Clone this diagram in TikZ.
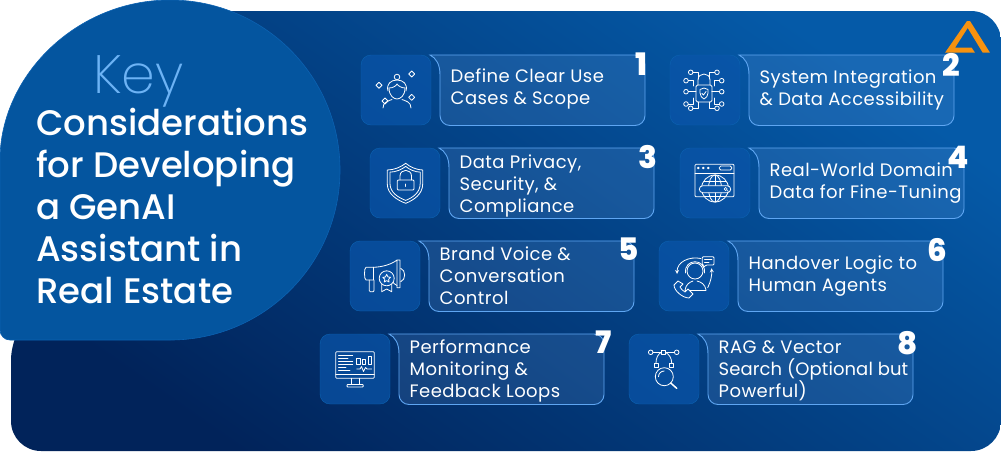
\documentclass[tikz,border=0pt]{standalone}
\usepackage{fontspec}
\setmainfont{Poppins}
\newfontfamily\poplight{Poppins ExtraLight}
\newfontfamily\popmedium{Poppins Medium}
\newfontfamily\popheavy{Poppins ExtraBold}
\newfontfamily\popcard[LetterSpace=2.4]{Poppins}
\newfontfamily\popcardnarrow[LetterSpace=.5]{Poppins}
\definecolor{blobblue}{HTML}{04559F}
\definecolor{blobedge}{HTML}{0C62B2}
\definecolor{panelline}{HTML}{5FA6F2}
\definecolor{paneltint}{HTML}{8FC0FF}
\definecolor{keyblue}{HTML}{6DB3F5}
\definecolor{logoorange}{HTML}{F7920F}
\definecolor{boxblue}{HTML}{0A55AA}
\tikzset{
    x=1pt,y=-1pt,
    icon/.style={draw=white,line width=.8pt,line join=round,line cap=round},
    iconbox/.style={draw=blobedge,line width=.4pt,fill=boxblue,fill opacity=.7,rounded corners=10},
    panel/.style={draw=panelline,line width=.9pt,fill=paneltint,fill opacity=.14},
    cardtext/.style={font=\popcard\fontsize{18}{21.7}\selectfont,text=white,align=left,inner sep=0pt},
    cardnum/.style={font=\popheavy\fontsize{31}{31}\selectfont,text=white,inner sep=0pt},
    titletext/.style={font=\popmedium\fontsize{35.5}{42}\selectfont,text=white,align=left,inner sep=0pt},
}
\newcommand{\iconperson}{
    \foreach \sx/\sy in {18/30.3,50.7/19,24/46,50.7/42.3}
        \draw[icon] (\sx,\sy-3) -- (\sx+3,\sy) -- (\sx,\sy+3) -- (\sx-3,\sy) -- cycle;
    \draw[icon] (36,22) circle (2.8);
    \draw[icon] (27,36) .. controls (25,29) and (30,25) .. (36,25) .. controls (42,25) and (47,29) .. (45,36);
    \draw[icon] (28,33) .. controls (32,33) and (35,31) .. (36,29) .. controls (37,31) and (41,33) .. (44,33);
    \draw[icon] (28,33) .. controls (28,41) and (33,44) .. (36,44) .. controls (39,44) and (44,41) .. (44,33);
    \draw[icon] (22,53) .. controls (22,47) and (27,46) .. (31,44.5);
    \draw[icon] (41,44.5) .. controls (45,46) and (50,47) .. (50,53);
}
\newcommand{\iconlock}{
    \foreach \sx in {1,-1} {
    \begin{scope}[shift={(33.85,0)},xscale=\sx,shift={(-33.85,0)}]
        \foreach \px/\py in {20.7/17.3,16/25.7,16/36.7,16/49,20.7/53.3} \draw[icon] (\px,\py) circle (2.3);
        \draw[icon] (23,17.3) -- (28,17.3) -- (28,24);
        \draw[icon] (18.3,25.7) -- (23.5,25.7) -- (23.5,31);
        \draw[icon] (18.3,36.7) -- (26,36.7);
        \draw[icon] (18.3,49) -- (23.5,49) -- (23.5,43);
        \draw[icon] (23,53.3) -- (28,53.3) -- (28,47);
    \end{scope}
    }
    \draw[icon,rounded corners=1.5] (26,30) rectangle (42,47);
    \draw[icon] (28,30) -- (28,25) .. controls (28,17) and (40,17) .. (40,25) -- (40,30);
    \draw[icon] (34,33) -- (38,34.5) -- (38,38) .. controls (38,41) and (36,43) .. (34,44) .. controls (32,43) and (30,41) .. (30,38) -- (30,34.5) -- cycle;
    \draw[icon] (32,38.5) -- (33.5,40) -- (36,36.5);
}
\newcommand{\iconshieldpath}{
    \draw[icon] (35.7,15.3) .. controls (31,19) and (24,22) .. (17.3,22) -- (17.3,36) .. controls (17.3,46) and (27,52) .. (35.7,55.3) .. controls (44,52) and (52.7,46) .. (52.7,36) -- (52.7,22) .. controls (47,22) and (40,19) .. (35.7,15.3) -- cycle;
}
\newcommand{\iconshield}{
    \iconshieldpath
    \begin{scope}[shift={(5.35,5.4)},scale=.85]
        \iconshieldpath
    \end{scope}
    \draw[icon,rounded corners=1] (27.3,32) rectangle (44,42);
    \draw[icon] (30,32) -- (30,28) .. controls (30,20.5) and (41.5,20.5) .. (41.5,28) -- (41.5,32);
    \draw[icon] (35.7,36) -- (35.7,38.5);
}
\newcommand{\iconglobe}{
    \draw[icon,rounded corners=1] (15,16.3) rectangle (54,48.7);
    \draw[icon] (15,25.3) -- (54,25.3);
    \foreach \px in {18.3,23.3,28.3} \draw[icon] (\px,20) circle (.9);
    \draw[icon,rounded corners=1.5] (39.3,18) rectangle (51.7,22);
    \draw[icon,fill=boxblue] (35,40.5) circle (13.5);
    \draw[icon] (35,27) -- (35,54);
    \draw[icon] (35,40.5) ellipse (6.5 and 13.5);
    \draw[icon] (24,33) -- (46,33);
    \draw[icon] (24,48) -- (46,48);
    \draw[icon,fill=boxblue,rounded corners=3.5] (19.3,37.7) rectangle (50.7,44.7);
    \draw[icon,line width=.6pt] (45.7,41) circle (1.6);
    \draw[icon,line width=.6pt] (46.9,42.2) -- (48.3,43.4);
}
\newcommand{\iconmegaphone}{
    \draw[icon,rounded corners=2] (23.3,26.3) -- (18,26.3) .. controls (14,26.3) and (14,39) .. (18,39) -- (23.3,39);
    \draw[icon] (23.3,26.3) -- (23.3,39);
    \draw[icon] (23.3,26.3) .. controls (33,26) and (42,23) .. (47,19) -- (50,19) -- (50,46.7) -- (47,46.7) -- (47,19);
    \draw[icon] (47,44.5) .. controls (44.5,43) and (43,42) .. (43,41);
    \draw[icon] (50.7,27.3) .. controls (56,29) and (56,39) .. (50.7,40.7);
    \draw[icon,rounded corners=1] (19.3,39) -- (19.3,50.7) -- (24,50.7) -- (24,39);
    \draw[icon,fill=boxblue] (36.7,37.3) circle (7.5);
    \draw[icon] (36.7,33.3) -- (38,36) -- (40.6,36.3) -- (38.6,38.2) -- (39.1,41) -- (36.7,39.6) -- (34.3,41) -- (34.8,38.2) -- (32.8,36.3) -- (35.4,36) -- cycle;
    \draw[icon] (31.7,43) -- (31.7,50.7) -- (36.7,48) -- (41.7,50.7) -- (41.7,43);
}
\newcommand{\iconagent}{
    \draw[icon,rounded corners=1] (43.3,15.7) -- (55,15.7) -- (55,24) -- (47,24) -- (44.5,26.5) -- (44.5,24) -- (43.3,24) -- cycle;
    \draw[icon] (45.5,18.5) -- (53,18.5);
    \draw[icon] (45.5,21) -- (50,21);
    \draw[icon] (36,30) circle (8);
    \draw[icon] (26.5,32) .. controls (25,17) and (47,17) .. (45.5,32);
    \draw[icon] (26,49) .. controls (27,43) and (31,41) .. (34,40);
    \draw[icon] (47,49) .. controls (46,43) and (42,41) .. (38,40);
    \draw[icon] (26,49) -- (47,49);
    \draw[icon,->,>=stealth] (42,17.5) .. controls (30,15) and (18,21) .. (18,33);
    \draw[icon,->,>=stealth] (48.7,46.7) .. controls (52,40) and (53,34) .. (52.5,27.3);
    \draw[icon,fill=boxblue] (19,40) -- (15,44) .. controls (15,50) and (24,57) .. (30,57) -- (34,53) -- (29,48) -- (26,51) .. controls (24,50) and (21.5,47.5) .. (21,46) -- (24,43) -- cycle;
}
\newcommand{\iconmonitor}{
    \draw[icon,rounded corners=1] (15.7,17.7) rectangle (54.3,44.3);
    \draw[icon] (15.7,40.5) -- (54.3,40.5);
    \foreach \py/\pe in {21.7/32.7,24.7/28,27.7/32.7,30.7/32.7,33.7/26,36.7/30} \draw[icon] (18.5,\py) -- (\pe,\py);
    \draw[icon] (36.7,24) rectangle (40,30);
    \draw[icon] (42.5,25.5) rectangle (45.8,30);
    \draw[icon] (48.3,22) rectangle (51.7,30);
    \draw[icon] (36.7,35) -- (40,35) -- (41.5,32.5) -- (43.5,37.5) -- (45.5,33.5) -- (47,35) -- (51.7,35);
    \draw[icon] (31,44.3) -- (31,50.5);
    \draw[icon] (39,44.3) -- (39,50.5);
    \draw[icon,rounded corners=.8] (27,50.5) rectangle (43.3,53);
}
\newcommand{\iconvector}{
    \draw[icon] (24,18.3) -- (32.3,18.3);
    \draw[icon] (36.3,18.3) -- (45.4,18.3);
    \draw[icon] (21.7,18.3) circle (2.3);
    \draw[icon] (47.7,18.3) circle (2.3);
    \draw[icon] (32.3,16.3) rectangle (36.3,20.3);
    \draw[icon] (32.3,18.3) .. controls (29,20) and (27,24) .. (27,29);
    \draw[icon] (36.3,18.3) .. controls (40,20) and (42.7,24) .. (42.7,29);
    \draw[icon] (25,29) rectangle (29,33);
    \draw[icon] (40.7,29) rectangle (44.7,33);
    \draw[icon] (35.3,42.7) circle (9);
    \draw[icon] (29.5,42.7) .. controls (29.5,39.5) and (32,37) .. (35.3,37);
    \draw[icon,line width=1.5pt] (41.7,49) -- (47.7,54.3);
}
\begin{document}
\begin{tikzpicture}
    \useasboundingbox (0,0) rectangle (1001,451);
    %% background and title blob
    \shade[rounded corners=30,shading=axis,
        top color={rgb,255:red,5;green,90;blue,168},middle color={rgb,255:red,4;green,80;blue,158},
        bottom color={rgb,255:red,1;green,35;blue,90},shading angle=-35]
        (170,170) -- (170,11) -- (1001,11) -- (1001,451) -- (11,451) -- (11,330) -- cycle;
    \draw[fill=blobblue,draw=blobedge,line width=.6pt] (0,170) arc[start angle=180,end angle=450,radius=170]
        [rounded corners=10] -- (0,340) -- cycle;
    \node[font=\poplight\fontsize{54}{54}\selectfont,text=keyblue,anchor=base west,inner sep=0pt] (keyword) at (93,93) {Key};
    \node[titletext,anchor=base west] (title) at (36,303) {Considerations\\for Developing\\a GenAI\\Assistant in\\Real Estate};
    %% logo
    \fill[logoorange] (967,21) -- (970,21) -- (990,52.7) -- (982.7,52.7) -- (967.7,28) -- (955,47.7) -- (971.7,47.7) -- (975,52.7) -- (945,52.7) -- cycle;
    %% cards
    \foreach \cx/\cy/\nx/\ny/\num/\iconname/\ytxt/\txt in {
        361/55/280/9/1/iconperson/49.6/{Define Clear Use\\Cases \& Scope},
        670/55/281/9.5/2/iconlock/50.3/{System Integration\\\& Data Accessibility},
        370/148/277.5/9/3/iconshield/64/{Data Privacy,\\Security, \&\\Compliance},
        680/148/278/9.5/4/iconglobe/50.3/{Real-World Domain\\Data for Fine-Tuning},
        350/241/279/8/5/iconmegaphone/63/{Brand Voice \&\\Conversation\\Control},
        659/241/278/9/6/iconagent/50.3/{Handover Logic to\\Human Agents},
        320/334/283.5/8.5/7/iconmonitor/63/{Performance\\Monitoring \&\\Feedback Loops},
        629/334/278.5/9/8/iconvector/63/{RAG \& Vector\\{\popcardnarrow Search (Optional but}\\Powerful)}} {
    \begin{scope}[shift={(\cx,\cy)}]
        \draw[iconbox] (0,0) rectangle (70,70);
        \draw[panel] (69,0) .. controls (75,3) and (79,9) .. (79,20) [rounded corners=10] -- (79,70.5) -- (284,70.5) -- (284,0) [sharp corners] -- (69,0) -- cycle;
        \csname\iconname\endcsname
        \node[cardtext,anchor=base west] (txt\num) at (89.5,\ytxt) {\txt};
        \node[cardnum] (num\num) at (\nx,\ny) {\num};
    \end{scope}
    }
\end{tikzpicture}
\end{document}
